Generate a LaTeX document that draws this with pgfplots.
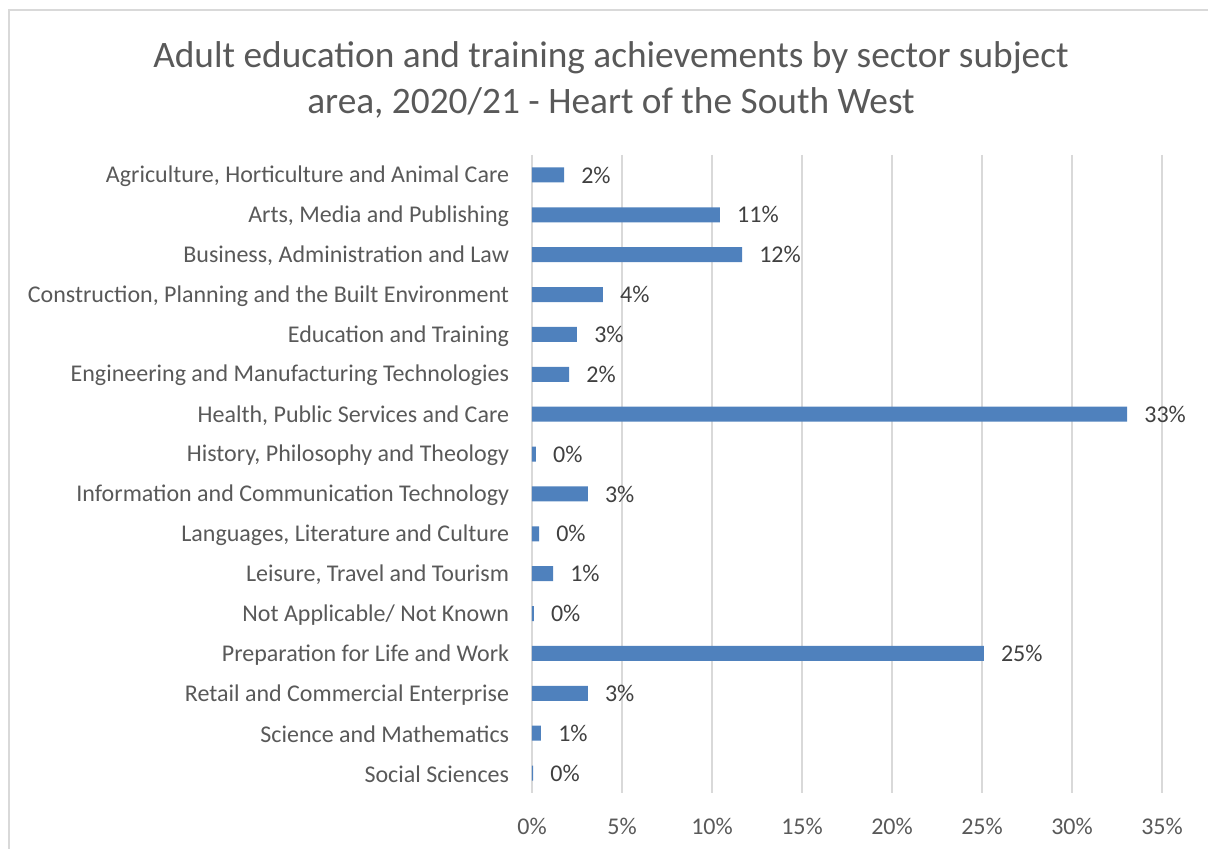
\documentclass[border=0pt]{standalone}
\usepackage{pgfplots}
\pgfplotsset{compat=1.18}
\usepackage{fontspec}
\setmainfont{Carlito}
\definecolor{barblue}{HTML}{4F81BD}
\definecolor{gridgray}{HTML}{D9D9D9}
\definecolor{txtgray}{HTML}{595959}
\definecolor{lbldark}{HTML}{404040}
\begin{document}
\begin{tikzpicture}
\useasboundingbox (0,0) rectangle (906pt,636.75pt);
\draw[gridgray, line width=1.2pt] (6.75pt,-5pt) -- (6.75pt,629.25pt) -- (915pt,629.25pt);
\node[anchor=base, text=txtgray, font=\fontsize{28}{33}\selectfont] at (458.25pt,585.75pt) {Adult education and training achievements by sector subject};
\node[anchor=base, text=txtgray, font=\fontsize{28}{33}\selectfont] at (458.25pt,551.25pt) {area, 2020/21 - Heart of the South West};
\begin{axis}[
  at={(399pt,42pt)}, anchor=south west,
  scale only axis, width=472.5pt, height=478.5pt,
  xbar, bar width=11.25pt,
  xmin=0, xmax=35, ymin=-0.5, ymax=15.5, y dir=reverse,
  axis line style={draw=none},
  xtick={0,5,...,35},
  xticklabels={0\%,5\%,10\%,15\%,20\%,25\%,30\%,35\%},
  ytick={0,...,15},
  yticklabels={Agriculture{,} Horticulture and Animal Care,Arts{,} Media and Publishing,Business{,} Administration and Law,Construction{,} Planning and the Built Environment,Education and Training,Engineering and Manufacturing Technologies,{Health, Public Services and Care},{History, Philosophy and Theology},Information and Communication Technology,{Languages, Literature and Culture},{Leisure, Travel and Tourism},Not Applicable/ Not Known,Preparation for Life and Work,Retail and Commercial Enterprise,Science and Mathematics,Social Sciences},
  major tick length=0pt,
  xmajorgrids, grid style={gridgray, line width=1.1pt},
  xticklabel style={font=\fontsize{18}{22}\selectfont, text=txtgray, inner sep=0pt, anchor=north, yshift=-19pt},
  yticklabel style={font=\fontsize{18}{22}\selectfont, text=txtgray, inner sep=0pt, anchor=east, xshift=-17pt, yshift=-1pt},
  point meta=explicit symbolic,
  nodes near coords,
  every node near coord/.append style={anchor=west, inner sep=0pt, xshift=12.75pt, font=\fontsize{18}{22}\selectfont, text=lbldark},
]
\addplot[fill=barblue, draw=none] coordinates {
(1.78,0) [2\%]
(10.44,1) [11\%]
(11.67,2) [12\%]
(3.94,3) [4\%]
(2.5,4) [3\%]
(2.06,5) [2\%]
(33.06,6) [33\%]
(0.22,7) [0\%]
(3.1,8) [3\%]
(0.39,9) [0\%]
(1.17,10) [1\%]
(0.1,11) [0\%]
(25.1,12) [25\%]
(3.1,13) [3\%]
(0.5,14) [1\%]
(0.06,15) [0\%]
};
\end{axis}
\end{tikzpicture}
\end{document}
